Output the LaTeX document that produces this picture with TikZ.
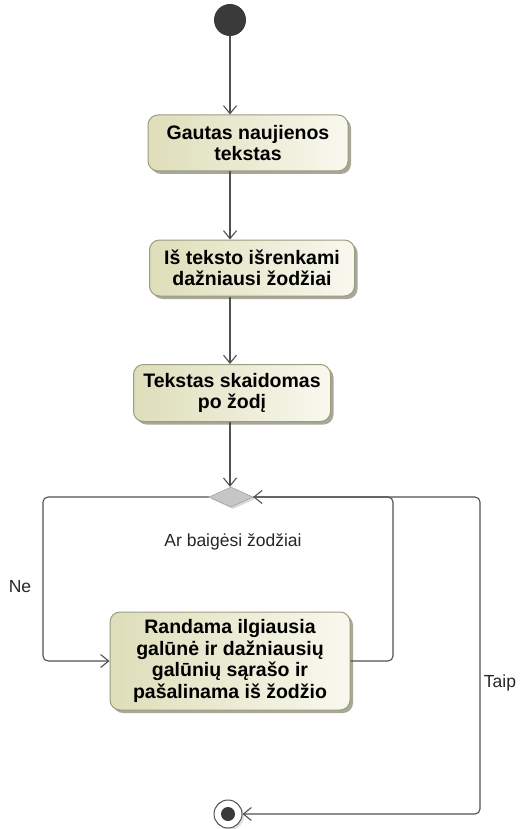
\documentclass[tikz,border=0pt]{standalone}
\usepackage{fontspec}
\setmainfont{Liberation Sans}
\usetikzlibrary{arrows.meta,shapes.geometric,shadows,calc}

\definecolor{edge}{HTML}{505050}
\definecolor{boxline}{HTML}{9C9C80}
\definecolor{boxleft}{HTML}{DEDEBA}
\definecolor{boxright}{HTML}{F8F8EF}
\definecolor{boxshadow}{HTML}{989888}
\definecolor{startfill}{HTML}{3A3A3A}

\tikzset{
  action/.style={rectangle, rounded corners=10pt, draw=boxline, line width=1pt,
    left color=boxleft, right color=boxright, align=center, inner sep=2pt,
    font=\bfseries\fontsize{19.5}{21.5}\selectfont,
    drop shadow={shadow xshift=3pt, shadow yshift=-3pt, fill=boxshadow, opacity=0.85}},
  flow/.style={draw=edge, line width=1.1pt, -{Straight Barb[length=8pt,width=13pt]}},
  decision/.style={diamond, draw=gray!85, fill=gray!45, inner sep=0pt,
    minimum width=44pt, minimum height=20pt,
    drop shadow={shadow xshift=2pt, shadow yshift=-2pt, fill=gray!60}},
  lbl/.style={font=\fontsize{17.5}{20}\selectfont, text=black!85}
}

\begin{document}
\begin{tikzpicture}[x=1pt,y=-1pt]
  \useasboundingbox (0,0) rectangle (520,829);

  % initial and final nodes
  \node[circle, fill=startfill, minimum size=32pt, inner sep=0pt] (start) at (230,20) {};
  \node[circle, draw=edge, line width=1pt, fill=white, minimum size=28pt, inner sep=0pt,
        drop shadow={shadow xshift=2pt, shadow yshift=-2pt, fill=gray!50}] (end) at (228,814) {};
  \node[circle, fill=startfill, minimum size=14pt, inner sep=0pt] (enddot) at (end) {};

  % actions
  \node[action, minimum width=200pt, minimum height=56pt] (b1) at (248,143)
    {Gautas naujienos\\tekstas};
  \node[action, minimum width=205pt, minimum height=56pt] (b2) at (252,268)
    {Iš teksto išrenkami\\dažniausi žodžiai};
  \node[action, minimum width=197pt, minimum height=57pt] (b3) at (232,393)
    {Tekstas skaidomas\\po žodį};
  \node[action, minimum width=240pt, minimum height=98pt] (b4) at (230,661)
    {Randama ilgiausia\\galūnė ir dažniausių\\galūnių sąrašo ir\\pašalinama iš žodžio};

  % decision
  \node[decision] (dec) at (231,497) {};

  % bend points of the loop
  \coordinate (nel) at (43,0);
  \coordinate (inr) at (393,0);
  \coordinate (outr) at (480,0);

  % main column
  \draw[flow] (start.south) -- (start.south |- b1.north);
  \draw[flow] (b1.south -| start) -- (b2.north -| start);
  \draw[flow] (b2.south -| start) -- (b3.north -| start);
  \draw[flow] (b3.south -| start) -- (dec.north -| start);

  % branches
  \draw[flow, rounded corners=5pt] (dec.west) -| (nel |- b4.west) -- (b4.west);
  \draw[flow, rounded corners=5pt] (b4.east) -| (inr |- dec.east) -- (dec.east);
  \draw[flow, rounded corners=5pt] (dec.east) -| (outr |- end.east) -- (end.east);

  % labels
  \node[lbl] (guard) at (233,542) {Ar baigėsi žodžiai};
  \node[lbl] (ne) at (20,587) {Ne};
  \node[lbl] (taip) at (500,683) {Taip};
\end{tikzpicture}
\end{document}
